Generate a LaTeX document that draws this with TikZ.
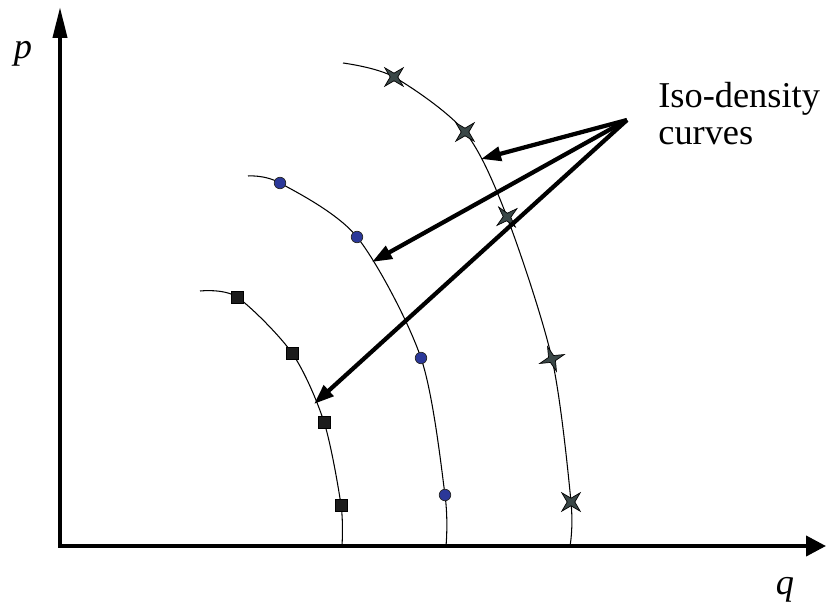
\documentclass[tikz,border=0pt]{standalone}
\usepackage{fontspec}
\setmainfont{Liberation Serif}
\usetikzlibrary{arrows.meta, shapes.geometric}
\definecolor{sqfill}{HTML}{1C1C1C}
\definecolor{dotfill}{HTML}{2B3899}
\definecolor{starfill}{HTML}{3A4747}
\tikzset{
  axis/.style={line width=0.08cm, line cap=rect},
  curve/.style={line width=0.6pt},
  pointer/.style={line width=0.085cm, -{Triangle[length=0.4cm,width=0.28cm]}},
  sqmark/.style={rectangle, draw=black, fill=sqfill, minimum size=0.24cm, inner sep=0pt, line width=0.3pt},
  dotmark/.style={circle, draw=black!85, fill=dotfill, minimum size=0.23cm, inner sep=0pt, line width=0.4pt},
  starmark/.style={star, star points=4, star point ratio=3.4, draw=black, fill=starfill, minimum size=0.52cm, inner sep=0pt, line width=0.4pt, rotate=45},
  lbl/.style={font=\fontsize{20.7}{21.5}\selectfont, inner sep=0pt}
}

\begin{document}
\begin{tikzpicture}[x=0.02cm, y=-0.02cm]
\useasboundingbox (0,0) rectangle (829,608);
\coordinate (O) at (60,546);
\coordinate (ptop) at (60,7);
\coordinate (qend) at (826,546);
\draw[axis, -{Triangle[length=0.62cm,width=0.28cm]}] (O) -- (ptop);
\draw[axis, -{Triangle[length=0.4cm,width=0.4cm]}] (O) -- (qend);
\node[lbl] (plabel) at (23,54) {\textit{p}};
\node[lbl] (qlabel) at (785,590) {\textit{q}};

\coordinate (s0) at (200,291);
\coordinate (s1) at (237,297);
\coordinate (s2) at (292,353);
\coordinate (s3) at (324,422);
\coordinate (s4) at (341,505);
\coordinate (s5) at (342,546);
\draw[curve] plot[smooth] coordinates {(s0) (s1) (s2) (s3) (s4) (s5)};

\coordinate (c0) at (248,176);
\coordinate (c1) at (280,183);
\coordinate (c2) at (357,237);
\coordinate (c3) at (421,358);
\coordinate (c4) at (445,495);
\coordinate (c5) at (446,546);
\draw[curve] plot[smooth] coordinates {(c0) (c1) (c2) (c3) (c4) (c5)};

\coordinate (x0) at (343,63);
\coordinate (x1) at (394,77);
\coordinate (x2) at (465,132);
\coordinate (x3) at (507,217);
\coordinate (x4) at (552,359);
\coordinate (x5) at (571,502);
\coordinate (x6) at (570,546);
\draw[curve] plot[smooth] coordinates {(x0) (x1) (x2) (x3) (x4) (x5) (x6)};

\node[sqmark] (sq1) at (s1) {};
\node[sqmark] (sq2) at (s2) {};
\node[sqmark] (sq3) at (s3) {};
\node[sqmark] (sq4) at (s4) {};
\node[dotmark] (dot1) at (c1) {};
\node[dotmark] (dot2) at (c2) {};
\node[dotmark] (dot3) at (c3) {};
\node[dotmark] (dot4) at (c4) {};
\node[starmark] (st1) at (x1) {};
\node[starmark] (st2) at (x2) {};
\node[starmark, rotate=-5] (st3) at (x3) {};
\node[starmark, rotate=-25] (st4) at (x4) {};
\node[starmark] (st5) at (x5) {};

\node[lbl, anchor=base west, align=left] (iso) at (658,145) {Iso-density\\curves};
\coordinate (apex) at (627,120);
\coordinate (tipA) at (481,159);
\coordinate (tipB) at (372,262);
\coordinate (tipC) at (314,404);
\draw[pointer] (apex) -- (tipA);
\draw[pointer] (apex) -- (tipB);
\draw[pointer] (apex) -- (tipC);
\end{tikzpicture}
\end{document}
